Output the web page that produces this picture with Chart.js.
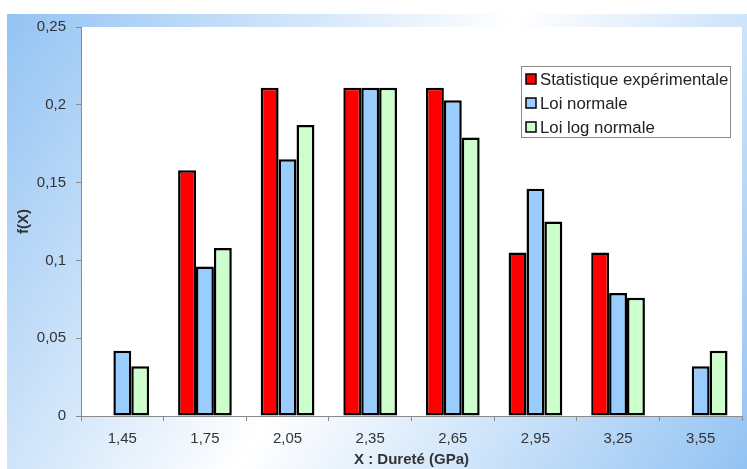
<!DOCTYPE html>
<html>
<head>
<meta charset="utf-8">
<script src="https://cdn.jsdelivr.net/npm/chart.js@4.4.1/dist/chart.umd.min.js"></script>
<style>
  html, body { margin: 0; padding: 0; background: #fff; }
  #wrap { position: relative; width: 747px; height: 469px; }
</style>
</head>
<body>
<div id="wrap"><canvas id="chart" width="747" height="469"></canvas></div>
<script>
// données
const durete = ['1,45', '1,75', '2,05', '2,35', '2,65', '2,95', '3,25', '3,55'];
const statExp = [0, 0.158, 0.211, 0.211, 0.211, 0.105, 0.105, 0];
const loiNormale = [0.042, 0.096, 0.165, 0.211, 0.203, 0.146, 0.079, 0.032];
const loiLogNormale = [0.032, 0.108, 0.187, 0.211, 0.179, 0.125, 0.076, 0.042];
const yTicks = [0, 0.05, 0.1, 0.15, 0.2, 0.25];

const fmt = v => String(Math.round(v * 100) / 100).replace('.', ',');

// fond dégradé + zone de tracé blanche
const fondPlugin = {
    id: 'fond',
    beforeDraw(chart) {
        const { ctx, chartArea } = chart;
        ctx.save();
        const g = ctx.createLinearGradient(7, 14, 747, 469);
        g.addColorStop(0, '#93c3f3');
        g.addColorStop(0.5, '#ffffff');
        g.addColorStop(1, '#93c3f3');
        ctx.fillStyle = g;
        ctx.fillRect(7, 14, 740, 455);
        ctx.fillStyle = '#ffffff';
        ctx.fillRect(chartArea.left, chartArea.top, chartArea.right - chartArea.left, chartArea.bottom - chartArea.top);
        ctx.restore();
    }
};

// légende encadrée dans la zone de tracé
const legendePlugin = {
    id: 'legende',
    afterDraw(chart) {
        const { ctx } = chart;
        ctx.save();
        ctx.fillStyle = '#fff';
        ctx.fillRect(521, 66, 209, 71);
        ctx.strokeStyle = '#8a8a8a';
        ctx.lineWidth = 1;
        ctx.strokeRect(521.5, 66.5, 209, 71);
        ctx.font = '16.8px "Liberation Sans", Arial, sans-serif';
        ctx.textBaseline = 'middle';
        chart.data.datasets.forEach((ds, i) => {
            const y = 79 + i * 24;
            ctx.fillStyle = ds.backgroundColor;
            ctx.fillRect(526, y - 5, 10, 10);
            ctx.strokeStyle = '#000';
            ctx.lineWidth = 1.5;
            ctx.strokeRect(526, y - 5, 10, 10);
            ctx.fillStyle = '#222';
            ctx.fillText(ds.label, 540, y + 1);
        });
        ctx.restore();
    }
};

const ctx = document.getElementById('chart').getContext('2d');
new Chart(ctx, {
    type: 'bar',
    data: {
        labels: durete,
        datasets: [
            { label: 'Statistique expérimentale', data: statExp, backgroundColor: '#ff0000' },
            { label: 'Loi normale', data: loiNormale, backgroundColor: '#99ccff' },
            { label: 'Loi log normale', data: loiLogNormale, backgroundColor: '#ccffcc' }
        ]
    },
    options: {
        responsive: false,
        animation: false,
        devicePixelRatio: 1,
        layout: { padding: { top: 27, right: 5, left: 0, bottom: 0 } },
        datasets: {
            bar: {
                borderColor: '#000',
                borderWidth: 2.5,
                borderSkipped: false,
                categoryPercentage: 0.65,
                barPercentage: 1
            }
        },
        plugins: {
            legend: { display: false },
            tooltip: { enabled: false }
        },
        scales: {
            x: {
                grid: { drawOnChartArea: false, drawTicks: true, tickLength: 5, color: '#8a8a8a', offset: true },
                border: { display: true, color: '#8a8a8a', width: 1 },
                ticks: { color: '#333', font: { family: '"Liberation Sans", Arial, sans-serif', size: 15 }, padding: 9 },
                title: {
                    display: true,
                    text: 'X : Dureté (GPa)',
                    color: '#333',
                    font: { family: '"Liberation Sans", Arial, sans-serif', size: 15, weight: 'bold' },
                    padding: { top: 0, bottom: 0 }
                },
                afterFit(scale) { scale.height = 53; }
            },
            y: {
                min: 0,
                max: 0.25,
                afterBuildTicks(scale) { scale.ticks = yTicks.map(v => ({ value: v })); },
                grid: { drawOnChartArea: false, drawTicks: true, tickLength: 5, color: '#8a8a8a' },
                border: { display: true, color: '#8a8a8a', width: 1 },
                ticks: {
                    color: '#333',
                    font: { family: '"Liberation Sans", Arial, sans-serif', size: 15 },
                    padding: 10,
                    callback: v => fmt(v)
                },
                title: {
                    display: true,
                    text: 'f(X)',
                    color: '#333',
                    font: { family: '"Liberation Sans", Arial, sans-serif', size: 15, weight: 'bold' },
                    padding: { top: 15, bottom: 0 }
                },
                afterFit(scale) { scale.width = 81; }
            }
        }
    },
    plugins: [fondPlugin, legendePlugin]
});
</script>
</body>
</html>
